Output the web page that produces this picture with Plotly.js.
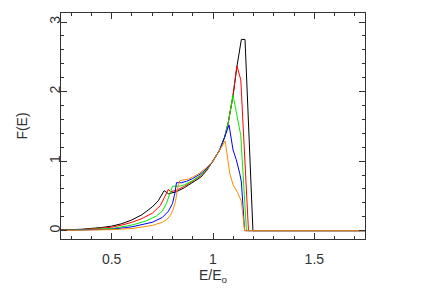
<!DOCTYPE html>
<html><head><meta charset="utf-8">
<script src="https://cdn.plot.ly/plotly-3.0.1.min.js"></script>
<style>html,body{margin:0;padding:0;background:#fff}</style>
</head><body><div id="chart" style="width:422px;height:288px"></div>
<script>
const blackX = [0.25,0.35,0.45,0.5,0.55,0.6,0.65,0.7,0.73,0.759,0.78,0.82,0.86,0.9,0.94,0.97,1.0,1.033,1.058,1.075,1.099,1.118,1.14,1.158,1.197,1.75];
const blackY = [0.01,0.02,0.045,0.065,0.10,0.155,0.23,0.34,0.43,0.575,0.53,0.56,0.62,0.69,0.77,0.87,1.0,1.16,1.35,1.55,1.94,2.36,2.75,2.75,0,0];
const redX = [0.25,0.35,0.45,0.5,0.55,0.6,0.65,0.7,0.74,0.78,0.79,0.82,0.86,0.9,0.94,0.97,1.0,1.033,1.058,1.075,1.099,1.118,1.137,1.175,1.75];
const redY = [0.01,0.015,0.035,0.05,0.08,0.12,0.175,0.25,0.36,0.595,0.56,0.58,0.64,0.71,0.79,0.88,1.0,1.16,1.35,1.55,1.95,2.37,2.17,0,0];
const greenX = [0.25,0.4,0.5,0.6,0.67,0.72,0.75,0.77,0.80,0.836,0.86,0.9,0.94,0.97,1.0,1.033,1.058,1.075,1.099,1.137,1.165,1.75];
const greenY = [0.005,0.015,0.03,0.08,0.14,0.21,0.28,0.39,0.64,0.64,0.66,0.72,0.80,0.89,1.0,1.16,1.35,1.55,1.95,1.37,0,0];
const blueX = [0.25,0.4,0.5,0.6,0.7,0.75,0.78,0.80,0.812,0.82,0.845,0.87,0.9,0.94,0.97,1.0,1.033,1.058,1.079,1.099,1.115,1.132,1.14,1.156,1.75];
const blueY = [0.003,0.01,0.02,0.055,0.12,0.19,0.28,0.39,0.54,0.69,0.69,0.71,0.75,0.82,0.90,1.0,1.16,1.35,1.52,1.16,1.02,0.82,0.70,0,0];
const orangeX = [0.25,0.4,0.5,0.6,0.7,0.75,0.77,0.79,0.803,0.815,0.825,0.836,0.877,0.9,0.935,0.97,1.0,1.033,1.06,1.083,1.099,1.123,1.14,1.156,1.75];
const orangeY = [0.002,0.008,0.015,0.03,0.075,0.12,0.155,0.22,0.30,0.42,0.6,0.72,0.74,0.77,0.83,0.91,1.0,1.16,1.29,0.82,0.66,0.54,0.42,0,0];

const series = [
  {x: blackX, y: blackY, c: '#000000'},
  {x: redX, y: redY, c: '#ff0000'},
  {x: greenX, y: greenY, c: '#00ee00'},
  {x: blueX, y: blueY, c: '#0000ff'},
  {x: orangeX, y: orangeY, c: '#ff8c00'}
];
const traces = series.map(s => ({x: s.x, y: s.y, type: 'scatter', mode: 'lines', line: {color: s.c, width: 1}, hoverinfo: 'skip'}));

const FONT = 'Liberation Sans, Arial, sans-serif';
const axisCommon = {
  showgrid: false, zeroline: false, showline: true, linecolor: '#333', linewidth: 1,
  mirror: 'allticks', ticks: 'inside', ticklen: 6, tickcolor: '#333', tickwidth: 1,
  tickfont: {family: FONT, size: 14, color: '#333'}
};
const layout = {
  width: 422, height: 288,
  margin: {l: 61, r: 57, t: 13, b: 49},
  paper_bgcolor: '#fff', plot_bgcolor: '#fff',
  showlegend: false,
  xaxis: Object.assign({}, axisCommon, {
    range: [0.25, 1.75], tickvals: [0.5, 1, 1.5], ticktext: ['0.5', '1', '1.5'],
    ticklabelstandoff: 7,
    minor: {dtick: 0.1, tick0: 0, ticks: 'inside', ticklen: 3, tickcolor: '#333'},
    title: {text: 'E/E<sub>o</sub>', font: {family: FONT, size: 14, color: '#333'}, standoff: 4}
  }),
  yaxis: Object.assign({}, axisCommon, {
    range: [-0.12, 3.13], tickvals: [0, 1, 2, 3], ticktext: ['0', '1', '2', '3'], tickangle: -90,
    ticklabelstandoff: -6,
    minor: {dtick: 0.2, tick0: 0, ticks: 'inside', ticklen: 3, tickcolor: '#333'},
    title: {text: 'F(E)', font: {family: FONT, size: 14, color: '#333'}, standoff: 16}
  })
};
Plotly.newPlot('chart', traces, layout, {staticPlot: true, displayModeBar: false});
</script></body></html>
